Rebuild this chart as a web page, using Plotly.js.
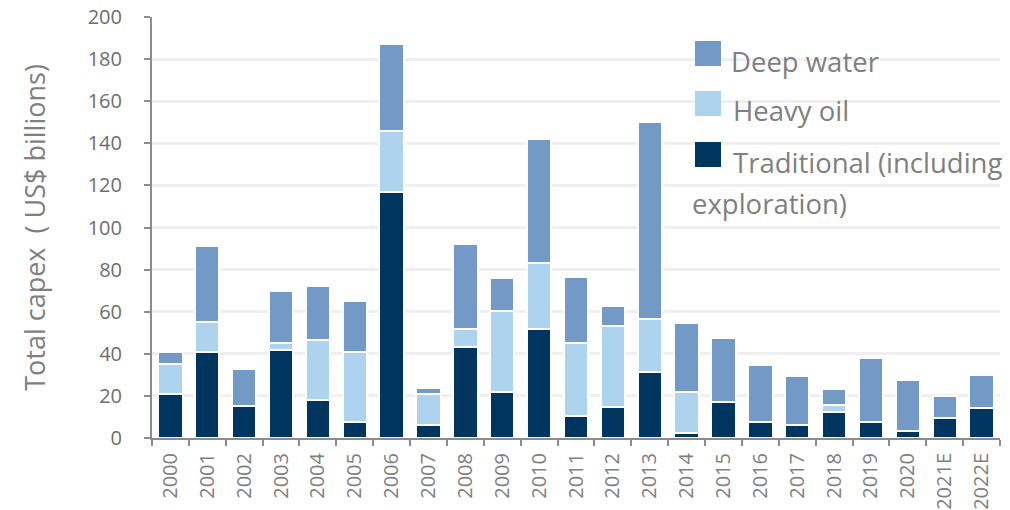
<!DOCTYPE html>
<html>
<head>
<meta charset="utf-8">
<script src="https://cdn.plot.ly/plotly-3.0.1.min.js"></script>
<style>html,body{margin:0;padding:0;background:#fff;}#chart{width:1010px;height:510px;}</style>
</head>
<body>
<div id="chart"></div>
<script>
const years = ["2000","2001","2002","2003","2004","2005","2006","2007","2008","2009","2010","2011","2012","2013","2014","2015","2016","2017","2018","2019","2020","2021E","2022E"];
const traditional = [21, 41, 15, 42, 18, 7.5, 117, 6.3, 43, 22, 51.7, 10.5, 14.6, 31.5, 2.4, 17, 7.4, 6.2, 12.2, 7.8, 3.2, 9.3, 14.1];
const heavyOil = [14, 14, 0, 3, 28.5, 33.5, 29, 14.6, 8.7, 38.4, 31.4, 34.5, 38.7, 25, 19.3, 0, 0, 0, 3.3, 0, 0, 0, 0];
const deepWater = [6, 36, 18, 25, 25.7, 24, 41, 2.7, 40.4, 15.5, 58.8, 31.4, 9.5, 93.7, 32.7, 30.4, 27.4, 23.4, 7.8, 30.2, 24.5, 10.8, 16];
const seriesNames = ["Deep water", "Heavy oil", "Traditional (including exploration)"];
const seriesColors = ["#7399C6", "#ADD3EF", "#003560"];
const yTitle = "Total capex  ( US$ billions)";

const L = 152, T = 17, PW = 848, PH = 421;
const px = x => (x - L) / PW;
const py = y => (T + PH - y) / PH;

const FONT = "Open Sans, sans-serif";
const GRAY = "#7f7f7f";

function barTrace(vals, name, color) {
  return {
    type: "bar", x: years, y: vals, name: name,
    marker: {color: color, line: {color: "#ffffff", width: 2}},
    hoverinfo: "x+y+name"
  };
}
const data = [
  barTrace(traditional, seriesNames[2], seriesColors[2]),
  barTrace(heavyOil, seriesNames[1], seriesColors[1]),
  barTrace(deepWater, seriesNames[0], seriesColors[0])
];

// manual legend
const swatchTops = [41, 91, 142];
const textY = [61, 111, 162];
const shapes = [], annotations = [];
seriesNames.forEach((n, i) => {
  shapes.push({type: "rect", xref: "paper", yref: "paper",
    x0: px(695), x1: px(721), y0: py(swatchTops[i] + 25), y1: py(swatchTops[i]),
    fillcolor: seriesColors[i], line: {width: 0}, layer: "above"});
});
annotations.push({text: seriesNames[0], x: px(729), y: py(textY[0])});
annotations.push({text: seriesNames[1], x: px(731), y: py(textY[1])});
const tradParts = seriesNames[2].split(" ");
annotations.push({text: tradParts.slice(0, 2).join(" "), x: px(731), y: py(textY[2])});
annotations.push({text: tradParts.slice(2).join(" "), x: px(690), y: py(203)});
annotations.forEach(a => Object.assign(a, {xref: "paper", yref: "paper", xanchor: "left", yanchor: "middle",
  showarrow: false, font: {family: FONT, size: 27.5, color: GRAY}}));

const layout = {
  width: 1010, height: 510,
  margin: {l: L, r: 1010 - L - PW, t: T, b: 510 - T - PH},
  paper_bgcolor: "#ffffff", plot_bgcolor: "#ffffff",
  barmode: "stack", bargap: 0.34,
  showlegend: false,
  font: {family: FONT, color: GRAY},
  xaxis: {
    type: "category", tickangle: -90, automargin: false,
    showline: true, linecolor: "#8c8c8c", linewidth: 2,
    ticks: "outside", tickson: "boundaries", ticklen: 6, tickcolor: "#8c8c8c", tickwidth: 2,
    tickfont: {family: FONT, size: 20, color: GRAY},
    ticklabelstandoff: 5,
    showgrid: false
  },
  yaxis: {
    range: [0, 200], dtick: 20, automargin: false,
    showline: true, linecolor: "#8c8c8c", linewidth: 2,
    ticks: "outside", ticklen: 6, tickcolor: "#8c8c8c", tickwidth: 2,
    tickfont: {family: FONT, size: 20, color: "#6e6e6e"},
    ticklabelstandoff: 18,
    showgrid: true, gridcolor: "#efefef", gridwidth: 3,
    zeroline: false,
    title: {text: yTitle, font: {family: FONT, size: 27, color: GRAY}, standoff: 34}
  },
  shapes: shapes,
  annotations: annotations
};

Plotly.newPlot("chart", data, layout, {displayModeBar: false, staticPlot: true});
</script>
</body>
</html>
